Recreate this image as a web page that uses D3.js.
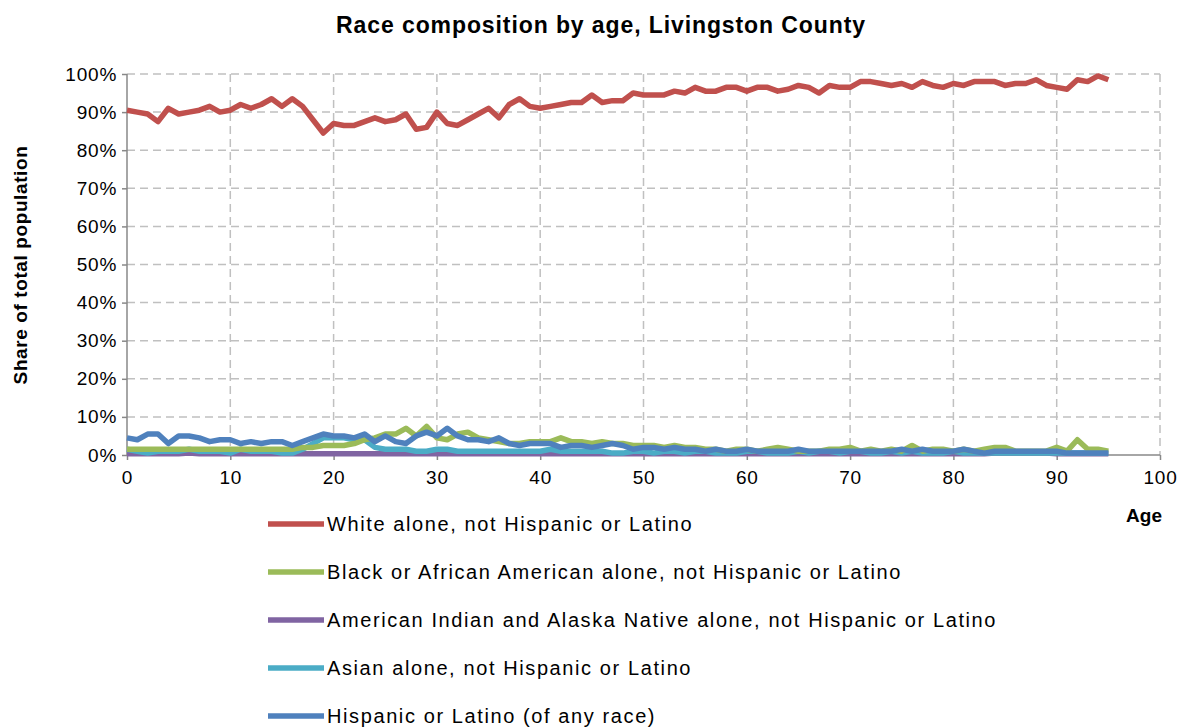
<!DOCTYPE html>
<html><head><meta charset="utf-8">
<script src="https://cdn.jsdelivr.net/npm/d3@7"></script>
<style>body{margin:0;background:#fff}text{font-family:"Liberation Sans",Arial,sans-serif}</style>
</head><body><svg width="1192" height="728"></svg>
<script>
const ages = d3.range(0, 96);
const white = [90.5,90,89.5,87.5,91,89.5,90,90.5,91.5,90,90.5,92,91,92,93.5,91.5,93.5,91.5,88,84.5,87,86.5,86.5,87.5,88.5,87.5,88,89.5,85.5,86,90,87,86.5,88,89.5,91,88.5,92,93.5,91.5,91,91.5,92,92.5,92.5,94.5,92.5,93,93,95,94.5,94.5,94.5,95.5,95,96.5,95.5,95.5,96.5,96.5,95.5,96.5,96.5,95.5,96,97,96.5,95,97,96.5,96.5,98,98,97.5,97,97.5,96.5,98,97,96.5,97.5,97,98,98,98,97,97.5,97.5,98.5,97,96.5,96,98.5,98,99.5,98.5];
const black = [1.5,1.5,1.5,1.5,1.5,1.5,1.5,1.5,1.5,1.5,1.5,1.5,1.5,1.5,1.5,1.5,1.5,2,2,2.5,2.5,2.5,3,4,4.5,5.5,5.5,7,5,7.5,4.5,4,5.5,6,4.5,4,3.5,3,3,3.5,3.5,3.5,4.5,3.5,3.5,3,3.5,3,3,2.5,2.5,2.5,2,2.5,2,2,1.5,1.5,1,1.5,1.5,1,1.5,2,1.5,1,1,1,1.5,1.5,2,1,1.5,1,1.5,1,2.5,1,1.5,1.5,1,1.5,1,1.5,2,2,1,1,1,1,2,1,4,1.5,1.5,1];
const aian = [0.3,0.3,0.3,0.3,0.3,0.3,0.5,0.3,0.3,0.3,0.3,0.3,0.3,0.3,0.3,0.3,0.3,0.3,0.3,0.3,0.3,0.3,0.3,0.3,0.3,0.3,0.3,0.3,0.3,0.3,0.3,0.3,0.3,0.3,0.3,0.3,0.3,0.3,0.3,0.3,0.3,0.3,0.3,0.3,0.3,0.3,0.3,0.3,0.3,0.3,0.3,0.3,0.3,0.3,0.3,0.3,0.3,0.3,0.3,0.3,0.3,0.3,0.3,0.3,0.3,0.3,0.3,0.3,0.3,0.3,0.3,0.3,0.3,0.3,0.3,0.3,0.3,0.3,0.3,0.3,0.3,0.3,0.3,0.3,0.5,0.5,0.5,0.5,0.5,0.5,0.3,0.3,0.3,0.3,0.3,0.3];
const asian = [1.5,1,0.5,1,1,1,1.5,1,1,1,0.5,1.5,1,1,1,0.5,0.5,1.5,3,4.5,4.5,4.5,4,4,2,1.5,1.5,1.5,1,1,1.5,1.5,1,1,1,1,1,1,1,1,1,1.5,1,1,1,1,1,0.5,0.5,1,1,0.5,1,1,0.5,1,1,0.5,0.5,0.5,1,1,0.5,0.5,0.5,1,0.5,1,1,0.5,1,1,0.5,0.5,1,0.5,1,0.5,0.5,0.5,1,0.5,0.5,0.5,0.5,0.5,0.5,0.5,0.5,0.5,0.5,0.5,0.5,0.5,0.5,0.5];
const hisp = [4.5,4,5.5,5.5,3,5,5,4.5,3.5,4,4,3,3.5,3,3.5,3.5,2.5,3.5,4.5,5.5,5,5,4.5,5.5,3.5,5,3.5,3,5,6,5,7,5,4,4,3.5,4.5,3,2.5,3,3,3,2,2.5,2.5,2,2.5,3,2.5,1.5,2,2,1.5,2,1.5,1.5,1,1.5,1,1,1.5,1,1,1,1,1.5,1,1,1,1,1,1,1,1,1,1.5,1,1.5,1,1,1,1.5,1,0.5,1,1,1,1,1,1,1,0.5,0.5,0.5,0.5,0.5];
const names = ["White alone, not Hispanic or Latino","Black or African American alone, not Hispanic or Latino","American Indian and Alaska Native alone, not Hispanic or Latino","Asian alone, not Hispanic or Latino","Hispanic or Latino (of any race)"];
const colors = ["#c0504d","#9bbb59","#8064a2","#4bacc6","#4f81bd"];
const series = [white, black, aian, asian, hisp];

const svg = d3.select("svg");
const x = d3.scaleLinear().domain([0, 100]).range([127, 1160]);
const y = d3.scaleLinear().domain([0, 100]).range([455, 74]);

svg.append("text").attr("x", 601).attr("y", 33).attr("text-anchor", "middle")
  .attr("font-size", 23).attr("font-weight", "bold").attr("letter-spacing", 0.9).text("Race composition by age, Livingston County");

const grid = svg.append("g").attr("stroke", "#c0c0c0").attr("stroke-dasharray", "8,5").attr("stroke-width", 1.5);
d3.range(10, 101, 10).forEach(v => grid.append("line").attr("x1", 127).attr("x2", 1160).attr("y1", y(v)).attr("y2", y(v)));
d3.range(10, 101, 10).forEach(v => grid.append("line").attr("x1", x(v)).attr("x2", x(v)).attr("y1", 74).attr("y2", 455));

const ya = svg.append("g").attr("transform", "translate(127,0)")
  .call(d3.axisLeft(y).tickValues(d3.range(0, 101, 10)).tickFormat(d => d + "%").tickSize(5));
const xa = svg.append("g").attr("transform", "translate(0,455)")
  .call(d3.axisBottom(x).tickValues(d3.range(0, 101, 10)).tickSize(5));
[ya, xa].forEach(a => { a.selectAll("path,line").attr("stroke", "#888").attr("stroke-width", 1.5); a.selectAll("text").attr("font-size", 19).attr("letter-spacing", 0.8).attr("fill", "#000"); a.select(".domain").attr("d", a === ya ? "M0,455V74" : "M127,0H1160"); });
xa.selectAll("text").attr("dy", "1.1em");
ya.selectAll("text").attr("dx", "-0.1em");

svg.append("text").attr("transform", "translate(27,265) rotate(-90)").attr("text-anchor", "middle")
  .attr("font-size", 19).attr("font-weight", "bold").attr("letter-spacing", 0.6).text("Share of total population");
svg.append("text").attr("x", 1162).attr("y", 522).attr("text-anchor", "end")
  .attr("font-size", 19).attr("font-weight", "bold").text("Age");

const line = d3.line().x((d, i) => x(ages[i])).y(d => y(d));
[2, 3, 1, 4, 0].forEach(k => svg.append("path").datum(series[k]).attr("d", line)
  .attr("fill", "none").attr("stroke", colors[k]).attr("stroke-width", 5.5).attr("stroke-linejoin", "round"));

const lg = svg.append("g");
names.forEach((n, i) => {
  const yy = 524 + i * 48;
  lg.append("line").attr("x1", 268).attr("x2", 324).attr("y1", yy).attr("y2", yy).attr("stroke", colors[i]).attr("stroke-width", 5.5);
  lg.append("text").attr("x", 327).attr("y", yy + 7).attr("font-size", 20).attr("letter-spacing", 1.6).text(n);
});
</script></body></html>
